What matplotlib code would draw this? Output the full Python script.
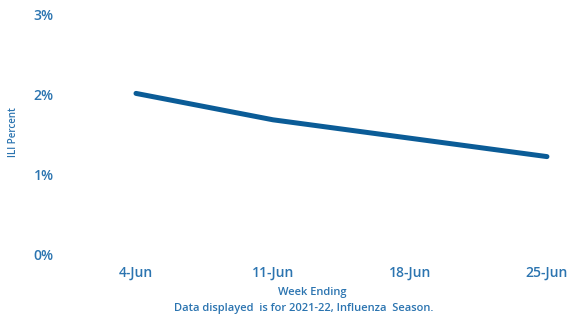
import matplotlib
matplotlib.use('Agg')
import matplotlib.pyplot as plt

# Datos
weeks = ['4-Jun', '11-Jun', '18-Jun', '25-Jun']
ili_pct = [2.02, 1.69, 1.46, 1.23]
y_ticks = [0, 1, 2, 3]
y_labels = ['0%', '1%', '2%', '3%']

line_color = '#0b5c97'
text_color = '#2b74b0'

plt.rcParams['font.family'] = ['Open Sans', 'DejaVu Sans']

fig = plt.figure(figsize=(5.69, 3.16), dpi=100)
W, H = 569, 316
left, right, top, bottom = 67.5, 549, 15, 255
ax = fig.add_axes([left / W, 1 - bottom / H, (right - left) / W, (bottom - top) / H])

x = list(range(len(weeks)))
ax.plot(x, ili_pct, color=line_color, linewidth=3.6, solid_capstyle='round', clip_on=False)

ax.set_xlim(-0.5, 3.015)
ax.set_ylim(0, 3)
ax.set_xticks(x)
ax.set_xticklabels(weeks, fontsize=10, fontweight='semibold', color=text_color)
ax.set_yticks(y_ticks)
ax.set_yticklabels(y_labels, fontsize=10, fontweight='semibold', color=text_color)
ax.tick_params(length=0, pad=10)
ax.tick_params(axis='x', pad=8)
for s in ax.spines.values():
    s.set_visible(False)

fig.text(13 / W, 1 - 132 / H, 'ILI Percent', rotation=90, fontsize=7, fontweight='semibold',
         color=text_color, ha='center', va='center')
fig.text(312 / W, 1 - 293 / H, 'Week Ending', fontsize=8, fontweight='semibold',
         color=text_color, ha='center', va='center')
fig.text(304 / W, 1 - 309 / H, 'Data displayed  is for 2021-22, Influenza  Season.', fontsize=8,
         fontweight='semibold', color=text_color, ha='center', va='center')

fig.savefig('out.png', dpi=100)
